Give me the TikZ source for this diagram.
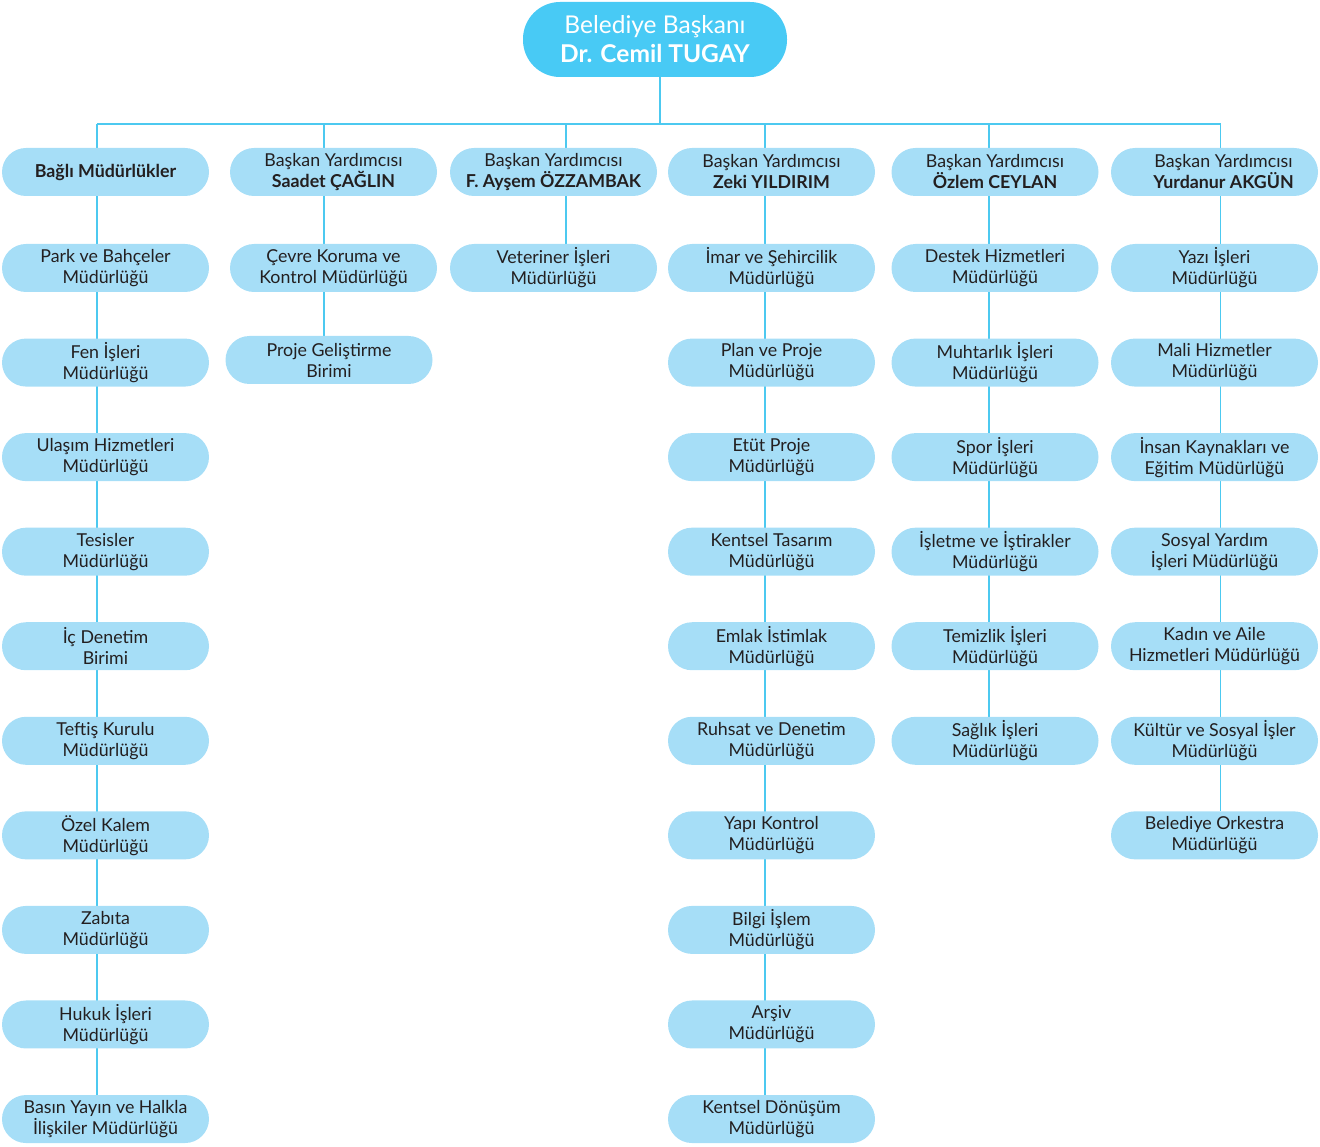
\documentclass[tikz,border=0pt]{standalone}
\usepackage{fontspec}
\setmainfont{Lato}
\usetikzlibrary{backgrounds,calc}
\definecolor{topblue}{HTML}{48CAF5}
\definecolor{boxblue}{HTML}{A6DEF7}
\definecolor{linkblue}{HTML}{4CC9F0}
\definecolor{txt}{HTML}{231F20}
\tikzset{
  unitbox/.style={fill=boxblue, draw=none, rounded corners=24pt, minimum width=207pt, minimum height=48pt,
     align=center, font=\fontsize{17.8}{21}\selectfont, text=txt, inner sep=0pt},
  headbox/.style={unitbox},
  topbox/.style={fill=topblue, draw=none, rounded corners=37pt, minimum width=264pt, minimum height=75pt,
     align=center, font=\fontsize{24.5}{29}\selectfont, text=white, inner sep=0pt},
  link/.style={draw=linkblue, line width=1.8pt},
}
\newcommand{\rowy}[1]{268+94.56*(#1-1)}
\begin{document}
\begin{tikzpicture}[x=1pt,y=-1pt]
\useasboundingbox (0,0) rectangle (1320,1147);
\node[topbox] (top) at (655,39.5) {Belediye Başkanı\\\textbf{Dr. Cemil TUGAY}};

% headers
\node[headbox] (h1) at (105.5,172) {\textbf{Bağlı Müdürlükler}};
\node[headbox] (h2) at (333.5,172) {Başkan Yardımcısı\\\textbf{Saadet ÇAĞLIN}};
\node[headbox] (h3) at (553.5,172) {Başkan Yardımcısı\\\textbf{F. Ayşem ÖZZAMBAK}};
\node[headbox] (h4) at (771.5,172) {Başkan Yardımcısı\\\textbf{Zeki YILDIRIM}};
\node[headbox] (h5) at (995,172) {Başkan Yardımcısı\\\textbf{Özlem CEYLAN}};
\node[headbox] (h6) at (1214.5,172) {\hspace*{18pt}Başkan Yardımcısı\\\hspace*{18pt}\textbf{Yurdanur AKGÜN}};

% column 1
\node[unitbox] (a1) at (105.5,{\rowy{1}}) {Park ve Bahçeler\\Müdürlüğü};
\node[unitbox] (a2) at (105.5,{\rowy{2}}) {Fen İşleri\\Müdürlüğü};
\node[unitbox] (a3) at (105.5,{\rowy{3}}) {Ulaşım Hizmetleri\\Müdürlüğü};
\node[unitbox] (a4) at (105.5,{\rowy{4}}) {Tesisler\\Müdürlüğü};
\node[unitbox] (a5) at (105.5,{\rowy{5}}) {İç Denetim\\Birimi};
\node[unitbox] (a6) at (105.5,{\rowy{6}}) {Teftiş Kurulu\\Müdürlüğü};
\node[unitbox] (a7) at (105.5,{\rowy{7}}) {Özel Kalem\\Müdürlüğü};
\node[unitbox] (a8) at (105.5,{\rowy{8}}) {Zabıta\\Müdürlüğü};
\node[unitbox] (a9) at (105.5,{\rowy{9}}) {Hukuk İşleri\\Müdürlüğü};
\node[unitbox] (a10) at (105.5,{\rowy{10}}) {Basın Yayın ve Halkla\\İlişkiler Müdürlüğü};

% column 2
\node[unitbox] (b1) at (333.5,{\rowy{1}}) {Çevre Koruma ve\\Kontrol Müdürlüğü};
\node[unitbox] (b2) at (329,360) {Proje Geliştirme\\Birimi};

% column 3
\node[unitbox] (c1) at (553.5,{\rowy{1}}) {Veteriner İşleri\\Müdürlüğü};

% column 4
\node[unitbox] (d1) at (771.5,{\rowy{1}}) {İmar ve Şehircilik\\Müdürlüğü};
\node[unitbox] (d2) at (771.5,{\rowy{2}}) {Plan ve Proje\\Müdürlüğü};
\node[unitbox] (d3) at (771.5,{\rowy{3}}) {Etüt Proje\\Müdürlüğü};
\node[unitbox] (d4) at (771.5,{\rowy{4}}) {Kentsel Tasarım\\Müdürlüğü};
\node[unitbox] (d5) at (771.5,{\rowy{5}}) {Emlak İstimlak\\Müdürlüğü};
\node[unitbox] (d6) at (771.5,{\rowy{6}}) {Ruhsat ve Denetim\\Müdürlüğü};
\node[unitbox] (d7) at (771.5,{\rowy{7}}) {Yapı Kontrol\\Müdürlüğü};
\node[unitbox] (d8) at (771.5,{\rowy{8}}) {Bilgi İşlem\\Müdürlüğü};
\node[unitbox] (d9) at (771.5,{\rowy{9}}) {Arşiv\\Müdürlüğü};
\node[unitbox] (d10) at (771.5,{\rowy{10}}) {Kentsel Dönüşüm\\Müdürlüğü};

% column 5
\node[unitbox] (e1) at (995,{\rowy{1}}) {Destek Hizmetleri\\Müdürlüğü};
\node[unitbox] (e2) at (995,{\rowy{2}}) {Muhtarlık İşleri\\Müdürlüğü};
\node[unitbox] (e3) at (995,{\rowy{3}}) {Spor İşleri\\Müdürlüğü};
\node[unitbox] (e4) at (995,{\rowy{4}}) {İşletme ve İştirakler\\Müdürlüğü};
\node[unitbox] (e5) at (995,{\rowy{5}}) {Temizlik İşleri\\Müdürlüğü};
\node[unitbox] (e6) at (995,{\rowy{6}}) {Sağlık İşleri\\Müdürlüğü};

% column 6
\node[unitbox] (f1) at (1214.5,{\rowy{1}}) {Yazı İşleri\\Müdürlüğü};
\node[unitbox] (f2) at (1214.5,{\rowy{2}}) {Mali Hizmetler\\Müdürlüğü};
\node[unitbox] (f3) at (1214.5,{\rowy{3}}) {İnsan Kaynakları ve\\Eğitim Müdürlüğü};
\node[unitbox] (f4) at (1214.5,{\rowy{4}}) {Sosyal Yardım\\İşleri Müdürlüğü};
\node[unitbox] (f5) at (1214.5,{\rowy{5}}) {Kadın ve Aile\\Hizmetleri Müdürlüğü};
\node[unitbox] (f6) at (1214.5,{\rowy{6}}) {Kültür ve Sosyal İşler\\Müdürlüğü};
\node[unitbox] (f7) at (1214.5,{\rowy{7}}) {Belediye Orkestra\\Müdürlüğü};

% bus coordinates
\coordinate (busT) at (660,124);
\coordinate (bus1) at (97,124);
\coordinate (bus2) at (324,124);
\coordinate (bus3) at (566,124);
\coordinate (bus4) at (765,124);
\coordinate (bus5) at (989,124);
\coordinate (bus6) at (1220.5,124);

\begin{scope}[on background layer]
  \draw[link] (top.south -| busT) -- (busT);
  \draw[link] (bus1) -- (bus6);
  \draw[link] (bus1) -- (a10.north -| bus1);
  \draw[link] (bus2) -- (b2.north -| bus2);
  \draw[link] (bus3) -- (c1.north -| bus3);
  \draw[link] (bus4) -- (d10.north -| bus4);
  \draw[link] (bus5) -- (e6.north -| bus5);
  \draw[link] (bus6) -- (f7.north -| bus6);
\end{scope}
\end{tikzpicture}
\end{document}
